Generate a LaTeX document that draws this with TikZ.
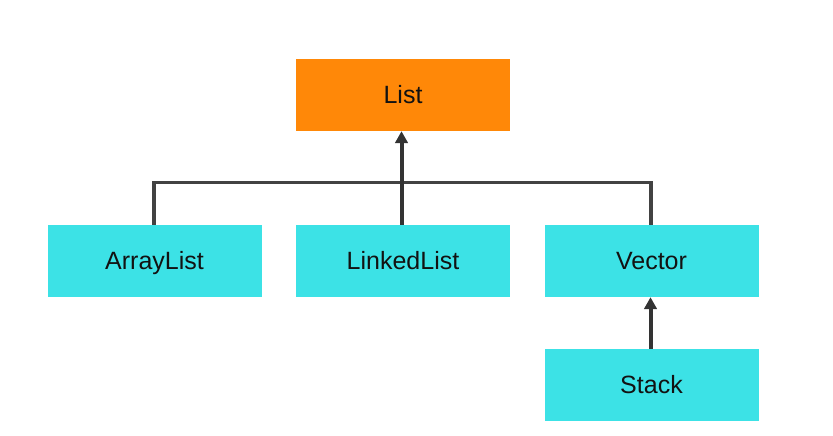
\documentclass[tikz,border=0pt]{standalone}
\usepackage{fontspec}
\setmainfont{Liberation Sans}
\usetikzlibrary{arrows.meta}

\definecolor{listorange}{RGB}{255,136,8}
\definecolor{implcyan}{RGB}{60,226,230}
\definecolor{linkgray}{RGB}{66,66,66}
\definecolor{arrowgray}{RGB}{51,51,51}

\tikzset{
  classbox/.style={minimum width=214pt,minimum height=72pt,inner sep=0pt,
    text height=17pt,text depth=0pt,
    text=black!93,font=\fontsize{25}{30}\selectfont},
  ifacebox/.style={classbox,fill=listorange},
  implbox/.style={classbox,fill=implcyan},
  link/.style={linkgray,line width=3.6pt},
  inherit/.style={arrowgray,line width=4pt,-{Triangle[width=12.5pt,length=12pt]}}
}

\begin{document}
\begin{tikzpicture}[x=1pt,y=-1pt]
\useasboundingbox (0,0) rectangle (833,436);

\node[ifacebox] (list) at (403,95) {List};
\node[implbox] (arraylist) at (154.5,261) {ArrayList};
\node[implbox] (linkedlist) at (403,261) {LinkedList};
\node[implbox] (vector) at (651.5,261) {Vector};
\node[implbox] (stack) at (651.5,385) {Stack};

\coordinate (barl) at (154,182.5);
\coordinate (barr) at (651,182.5);

\draw[link] ([xshift=-0.5pt]arraylist.north) -- (barl) -- (barr) -- ([xshift=-0.5pt]vector.north);
\draw[inherit] ([xshift=-1.5pt]linkedlist.north) -- ([xshift=-1.5pt]list.south);
\draw[inherit] ([xshift=-1pt]stack.north) -- ([xshift=-1pt]vector.south);

\end{tikzpicture}
\end{document}
